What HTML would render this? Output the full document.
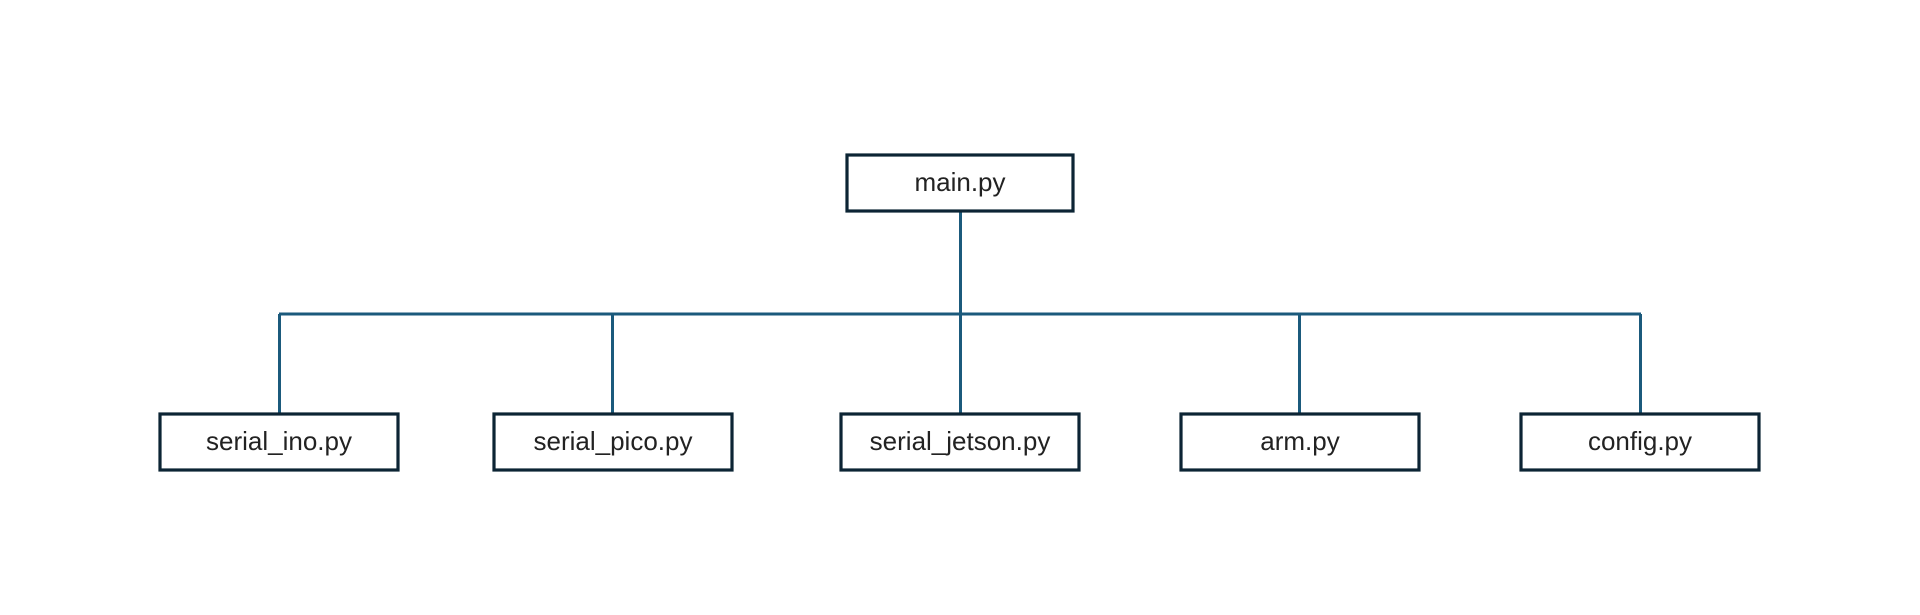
<!DOCTYPE html>
<html><head><meta charset="utf-8"><style>
html,body{margin:0;padding:0;background:#fff;width:1920px;height:615px;overflow:hidden}
</style></head><body>
<svg width="1920" height="615" xmlns="http://www.w3.org/2000/svg">
<g stroke="#1b5a7c" stroke-width="3" fill="none">
<line x1="960.5" y1="212" x2="960.5" y2="413"/>
<line x1="279" y1="314" x2="1641" y2="314"/>
<line x1="279.5" y1="314" x2="279.5" y2="413"/>
<line x1="612.5" y1="314" x2="612.5" y2="413"/>
<line x1="1299.5" y1="314" x2="1299.5" y2="413"/>
<line x1="1640.5" y1="314" x2="1640.5" y2="413"/>
</g>
<g stroke="#0c2434" stroke-width="3.2" fill="#fff">
<rect x="847" y="155" width="226" height="56"/>
<rect x="160" y="414" width="238" height="56"/>
<rect x="494" y="414" width="238" height="56"/>
<rect x="841" y="414" width="238" height="56"/>
<rect x="1181" y="414" width="238" height="56"/>
<rect x="1521" y="414" width="238" height="56"/>
</g>
<g font-family="Liberation Sans, sans-serif" font-size="26" fill="#222" text-anchor="middle">
<text x="960" y="191">main.py</text>
<text x="279" y="450">serial_ino.py</text>
<text x="613" y="450">serial_pico.py</text>
<text x="960" y="450">serial_jetson.py</text>
<text x="1300" y="450">arm.py</text>
<text x="1640" y="450">config.py</text>
</g>
</svg>
</body></html>
